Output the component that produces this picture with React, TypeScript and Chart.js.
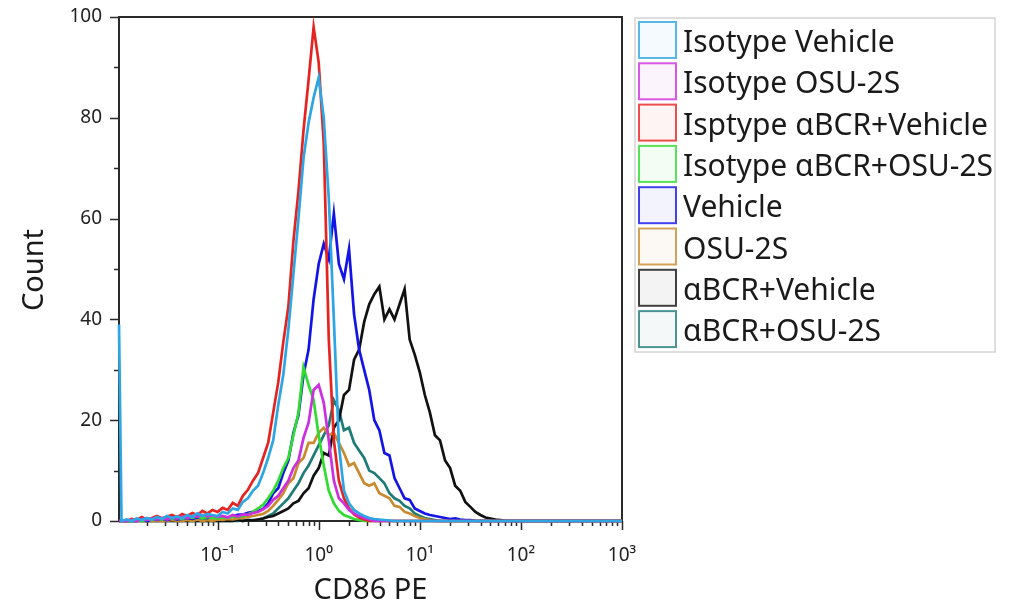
import React, { useEffect, useRef } from "react";
import { Chart, registerables } from "chart.js";

Chart.register(...registerables);

// log10 of the channel (bin) positions on the CD86 PE axis
const BIN_LOG10 = [
  -1.975, -1.95, -1.9, -1.85, -1.8, -1.75, -1.7, -1.65, -1.6, -1.55,
  -1.5, -1.45, -1.4, -1.35, -1.3, -1.25, -1.2, -1.15, -1.1, -1.05,
  -1.0, -0.95, -0.9, -0.85, -0.8, -0.75, -0.7, -0.65, -0.6, -0.55,
  -0.5, -0.45, -0.4, -0.35, -0.3, -0.25, -0.2, -0.15, -0.1, -0.05,
  0, 0.05, 0.1, 0.15, 0.2, 0.25, 0.3, 0.35, 0.4, 0.45,
  0.5, 0.55, 0.6, 0.65, 0.7, 0.75, 0.8, 0.85, 0.9, 0.95,
  1.0, 1.05, 1.1, 1.15, 1.2, 1.25, 1.3, 1.35, 1.4, 1.45,
  1.5, 1.55, 1.6, 1.65, 1.7, 1.75, 1.8, 1.85, 1.9, 1.95,
  2.0, 2.05, 2.1, 2.15, 2.2, 2.25, 2.3, 2.35, 2.4, 2.45,
  2.5, 2.55, 2.6, 2.65, 2.7, 2.75, 2.8, 2.85, 2.9, 2.95,
  3.0,
];

const ISOTYPE_VEHICLE = [
  39, 0, 0.3, 0, 0.5, 0.2, 0.6, 0.3, 0.8, 0.4,
  1.0, 0.6, 0.9, 0.5, 1.2, 0.8, 1.5, 1.0, 1.4, 1.2,
  1.0, 1.8, 1.5, 2.5, 2.2, 3.8, 4.5, 6.0, 7.0, 9.5,
  12.5, 16, 23, 29, 38, 49, 60, 72, 79, 84,
  88, 80, 64, 40, 15, 6, 3.5, 2.2, 1.5, 1.0,
  0.6, 0.4, 0.3, 0.2, 0.1, 0, 0, 0, 0, 0,
  0, 0, 0, 0, 0, 0, 0, 0, 0, 0,
  0, 0, 0, 0, 0, 0, 0, 0, 0, 0,
  0, 0, 0, 0, 0, 0, 0, 0, 0, 0,
  0, 0, 0, 0, 0, 0, 0, 0, 0, 0,
  0,
];

const ISOTYPE_OSU2S = [
  0, 0, 0, 0.2, 0, 0.4, 0.2, 0.5, 0.3, 0.6,
  0.3, 0.7, 0.5, 0.9, 0.6, 1.0, 0.8, 1.2, 0.9, 1.1,
  0.8, 1.0, 0.7, 1.2, 0.9, 1.3, 1.2, 1.6, 1.8, 2.3,
  3.0, 4.2, 5.0, 6.5, 8.0, 10.5, 12, 16.5, 19.5, 26,
  27, 23.5, 16, 8, 4.5, 3.5, 2.2, 1.5, 1.0, 0.6,
  0.3, 0, 0, 0, 0, 0, 0, 0, 0, 0,
  0, 0, 0, 0, 0, 0, 0, 0, 0, 0,
  0, 0, 0, 0, 0, 0, 0, 0, 0, 0,
  0, 0, 0, 0, 0, 0, 0, 0, 0, 0,
  0, 0, 0, 0, 0, 0, 0, 0, 0, 0,
  0,
];

const ISPTYPE_ABCR_VEHICLE = [
  0, 0, 0, 0.4, 0.2, 0.8, 0.3, 0.6, 1.0, 0.5,
  0.9, 1.2, 0.7, 1.4, 1.0, 1.6, 1.2, 2.0, 1.5, 2.2,
  1.8, 2.6, 2.2, 3.6, 3.0, 5.0, 6.2, 8.0, 9.5, 12.5,
  15.5, 21.5, 27.5, 35.5, 42.5, 55.5, 65.5, 77.5, 87.5, 98,
  91, 75, 36, 16, 8, 4.5, 2.5, 1.3, 0.7, 0.3,
  0, 0, 0, 0, 0, 0, 0, 0, 0, 0,
  0, 0, 0, 0, 0, 0, 0, 0, 0, 0,
  0, 0, 0, 0, 0, 0, 0, 0, 0, 0,
  0, 0, 0, 0, 0, 0, 0, 0, 0, 0,
  0, 0, 0, 0, 0, 0, 0, 0, 0, 0,
  0,
];

const ISOTYPE_ABCR_OSU2S = [
  0, 0, 0, 0, 0.2, 0, 0.3, 0.2, 0.5, 0.3,
  0.6, 0.4, 0.7, 0.4, 0.8, 0.6, 0.9, 0.5, 0.8, 0.6,
  0.5, 0.7, 0.6, 0.9, 0.8, 1.0, 1.3, 1.8, 2.5, 3.2,
  4.5, 6.0, 8.0, 10.5, 12.5, 17, 21.5, 30.5, 27, 24,
  17, 11, 6, 3.5, 2, 1.2, 0.8, 0.4, 0.2, 0,
  0, 0, 0, 0, 0, 0, 0, 0, 0, 0,
  0, 0, 0, 0, 0, 0, 0, 0, 0, 0,
  0, 0, 0, 0, 0, 0, 0, 0, 0, 0,
  0, 0, 0, 0, 0, 0, 0, 0, 0, 0,
  0, 0, 0, 0, 0, 0, 0, 0, 0, 0,
  0,
];

const VEHICLE = [
  0, 0, 0, 0, 0, 0.2, 0, 0.3, 0.2, 0.4,
  0.2, 0.5, 0.3, 0.4, 0.6, 0.4, 0.7, 0.5, 0.6, 0.8,
  0.6, 0.9, 0.7, 1.0, 1.2, 1.3, 1.6, 1.8, 2.0, 2.4,
  3.5, 5.5, 6.5, 9.5, 12, 17.5, 21, 29, 34, 44,
  51, 55, 52, 61, 51, 48, 54, 41, 34, 30,
  26, 20, 18, 13.5, 13, 8.5, 6.5, 4.5, 4.2, 2.5,
  2, 1.5, 1.2, 1.0, 0.8, 0.6, 0.4, 0.5, 0.3, 0.2,
  0.2, 0, 0, 0, 0, 0, 0, 0, 0, 0,
  0, 0, 0, 0, 0, 0, 0, 0, 0, 0,
  0, 0, 0, 0, 0, 0, 0, 0, 0, 0,
  0,
];

const OSU2S = [
  0, 0, 0, 0, 0, 0, 0, 0, 0, 0,
  0, 0.2, 0, 0, 0.2, 0, 0.3, 0, 0.2, 0,
  0.3, 0.2, 0.4, 0.3, 0.5, 0.6, 0.8, 1.0, 1.2, 1.4,
  2.0, 3.0, 4.2, 5.5, 7.5, 8.5, 11.5, 12.5, 15.5, 15.5,
  17.5, 18.5, 17, 17.5, 15.5, 13.5, 11, 11.5, 9.5, 7.5,
  7.0, 7.5, 5.5, 5.0, 4.5, 3.0, 2.8, 1.8, 1.5, 1.0,
  0.6, 0.4, 0.2, 0, 0, 0, 0, 0, 0, 0,
  0, 0, 0, 0, 0, 0, 0, 0, 0, 0,
  0, 0, 0, 0, 0, 0, 0, 0, 0, 0,
  0, 0, 0, 0, 0, 0, 0, 0, 0, 0,
  0,
];

const ABCR_VEHICLE = [
  0, 0, 0, 0, 0, 0, 0, 0, 0, 0,
  0, 0, 0, 0, 0, 0, 0, 0, 0, 0,
  0, 0, 0, 0, 0.2, 0, 0.2, 0.1, 0.3, 0.5,
  0.8, 1.0, 1.5, 2.0, 2.5, 3.5, 4.0, 5.5, 6.5, 9.0,
  10.5, 13.5, 13, 18.5, 20, 25, 26, 32, 34, 39.5,
  43, 45, 46.5, 40, 42, 40, 43, 46, 36, 33,
  29.5, 25, 21.5, 17, 16, 12, 10.5, 7, 6, 3.8,
  2.8, 1.8, 1.2, 0.7, 0.5, 0.3, 0.2, 0, 0, 0,
  0, 0, 0, 0, 0, 0, 0, 0, 0, 0,
  0, 0, 0, 0, 0, 0, 0, 0, 0, 0,
  0,
];

const ABCR_OSU2S = [
  0, 0, 0, 0, 0, 0, 0, 0, 0, 0,
  0, 0, 0, 0, 0, 0, 0, 0, 0, 0,
  0, 0, 0, 0, 0, 0.1, 0.2, 0.2, 0.3, 0.5,
  1.0, 1.5, 2.5, 3.5, 4.5, 6.0, 7.5, 9.5, 11, 13,
  15, 17, 19, 24, 22, 18, 18.5, 15.5, 14, 12.5,
  10, 9.5, 8.5, 7.5, 5.5, 4.5, 4.0, 3.0, 2.5, 1.5,
  1.0, 0.6, 0.4, 0.2, 0, 0, 0, 0, 0, 0,
  0, 0, 0, 0, 0, 0, 0, 0, 0, 0,
  0, 0, 0, 0, 0, 0, 0, 0, 0, 0,
  0, 0, 0, 0, 0, 0, 0, 0, 0, 0,
  0,
];

const SERIES_LABELS = [
  "Isotype Vehicle",
  "Isotype OSU-2S",
  "Isptype \u03b1BCR+Vehicle",
  "Isotype \u03b1BCR+OSU-2S",
  "Vehicle",
  "OSU-2S",
  "\u03b1BCR+Vehicle",
  "\u03b1BCR+OSU-2S",
];
const SERIES_VALUES = [
  ISOTYPE_VEHICLE,
  ISOTYPE_OSU2S,
  ISPTYPE_ABCR_VEHICLE,
  ISOTYPE_ABCR_OSU2S,
  VEHICLE,
  OSU2S,
  ABCR_VEHICLE,
  ABCR_OSU2S,
];
const SERIES_COLORS = [
  "#2ea6e3",
  "#cc2fe0",
  "#e52421",
  "#2fdc2f",
  "#1414e6",
  "#c98a2e",
  "#111111",
  "#1e7b78",
];

const X_TICK_VALUES = [0.1, 1, 10, 100, 1000];
const X_TICK_LABELS = ["10\u207b\u00b9", "10\u2070", "10\u00b9", "10\u00b2", "10\u00b3"];
const Y_TICK_STEP = 20;
const X_TITLE = "CD86 PE";
const Y_TITLE = "Count";

const FONT = "'Noto Sans', 'DejaVu Sans', sans-serif";

function hexToRgba(hex: string, a: number) {
  const n = parseInt(hex.slice(1), 16);
  return `rgba(${(n >> 16) & 255},${(n >> 8) & 255},${n & 255},${a})`;
}

const framePlugin = {
  id: "frameTicks",
  beforeDatasetsDraw(chart: any) {
    const { ctx, chartArea: a, scales } = chart;
    const x = scales.x;
    const y = scales.y;
    ctx.save();
    ctx.strokeStyle = "#2a2a2a";
    ctx.lineWidth = 2;
    ctx.strokeRect(a.left, a.top, a.right - a.left, a.bottom - a.top);
    ctx.lineWidth = 1.5;
    ctx.beginPath();
    for (let v = 0; v <= 100; v += 10) {
      const py = Math.round(y.getPixelForValue(v)) + 0.5;
      const len = v % 20 === 0 ? 9 : 5;
      ctx.moveTo(a.left - len, py);
      ctx.lineTo(a.left, py);
    }
    for (let d = -2; d <= 3; d++) {
      for (let m = 1; m <= 9; m++) {
        const v = m * Math.pow(10, d);
        if (v < x.min * 0.999 || v > x.max * 1.001) continue;
        const px = Math.round(x.getPixelForValue(v)) + 0.5;
        const len = m === 1 ? 9 : 5;
        ctx.moveTo(px, a.bottom);
        ctx.lineTo(px, a.bottom + len);
      }
    }
    ctx.stroke();
    ctx.restore();
  },
  afterDraw(chart: any) {
    const { ctx, chartArea: a } = chart;
    ctx.save();
    ctx.fillStyle = "#1a1a1a";
    ctx.font = `29px ${FONT}`;
    ctx.textAlign = "center";
    ctx.textBaseline = "alphabetic";
    ctx.fillText(X_TITLE, (a.left + a.right) / 2, 599);
    ctx.save();
    ctx.translate(43, 270);
    ctx.rotate(-Math.PI / 2);
    ctx.fillText(Y_TITLE, 0, 0);
    ctx.restore();

    // legend
    const lx = 635, ly = 18, lw = 360, lh = 334;
    ctx.fillStyle = "#ffffff";
    ctx.fillRect(lx, ly, lw, lh);
    ctx.strokeStyle = "#d4d4d4";
    ctx.lineWidth = 1.5;
    ctx.strokeRect(lx, ly, lw, lh);
    const pitch = 41.3;
    chart.data.datasets.forEach((ds: any, i: number) => {
      const top = 22 + i * pitch;
      ctx.fillStyle = hexToRgba(ds.borderColor, 0.05);
      ctx.fillRect(639, top, 37, 36);
      ctx.strokeStyle = hexToRgba(ds.borderColor, 0.8);
      ctx.lineWidth = 2;
      ctx.strokeRect(639, top, 37, 36);
      ctx.fillStyle = "#1a1a1a";
      ctx.font = `30px ${FONT}`;
      ctx.textAlign = "left";
      ctx.textBaseline = "alphabetic";
      ctx.fillText(ds.label, 683, top + 30);
    });
    ctx.restore();
  },
};

export default function App() {
  const ref = useRef<HTMLCanvasElement>(null);
  useEffect(() => {
    document.body.style.margin = "0";
    const canvas = ref.current;
    if (!canvas) return;
    const datasets = SERIES_LABELS.map((label, s) => ({
      label,
      data: BIN_LOG10.map((e, i) => ({ x: Math.pow(10, e), y: SERIES_VALUES[s][i] })),
      borderColor: SERIES_COLORS[s],
      backgroundColor: SERIES_COLORS[s],
      borderWidth: 2.7,
      pointRadius: 0,
      fill: false,
      tension: 0,
      clip: 4,
    }));
    const chart = new Chart(canvas, {
      type: "line",
      data: { datasets },
      plugins: [framePlugin],
      options: {
        animation: false,
        responsive: false,
        devicePixelRatio: 1,
        layout: { padding: { left: 0, top: 17, right: 387, bottom: 0 } },
        plugins: { legend: { display: false }, tooltip: { enabled: false } },
        scales: {
          x: {
            type: "logarithmic",
            min: Math.pow(10, -1.975),
            max: 1000,
            grid: { display: false },
            border: { display: false },
            afterBuildTicks: (scale: any) => {
              scale.ticks = X_TICK_VALUES.map((value) => ({ value }));
            },
            afterFit: (scale: any) => {
              scale.height = 87;
              scale.paddingLeft = 0;
            },
            ticks: {
              autoSkip: false,
              maxRotation: 0,
              padding: 15,
              color: "#222",
              font: { family: FONT, size: 19 },
              callback: (_v: any, i: number) => X_TICK_LABELS[i],
            },
          },
          y: {
            type: "linear",
            min: 0,
            max: 100,
            grid: { display: false },
            border: { display: false },
            afterFit: (scale: any) => {
              scale.width = 119;
              scale.paddingTop = 0;
              scale.paddingBottom = 0;
            },
            ticks: {
              stepSize: Y_TICK_STEP,
              padding: 9,
              color: "#222",
              font: { family: FONT, size: 19 },
            },
          },
        },
      },
    } as any);
    return () => chart.destroy();
  }, []);
  return (
    <div style={{ width: 1009, height: 608, background: "#fff" }}>
      <canvas ref={ref} width={1009} height={608} style={{ display: "block", width: 1009, height: 608 }} />
    </div>
  );
}
